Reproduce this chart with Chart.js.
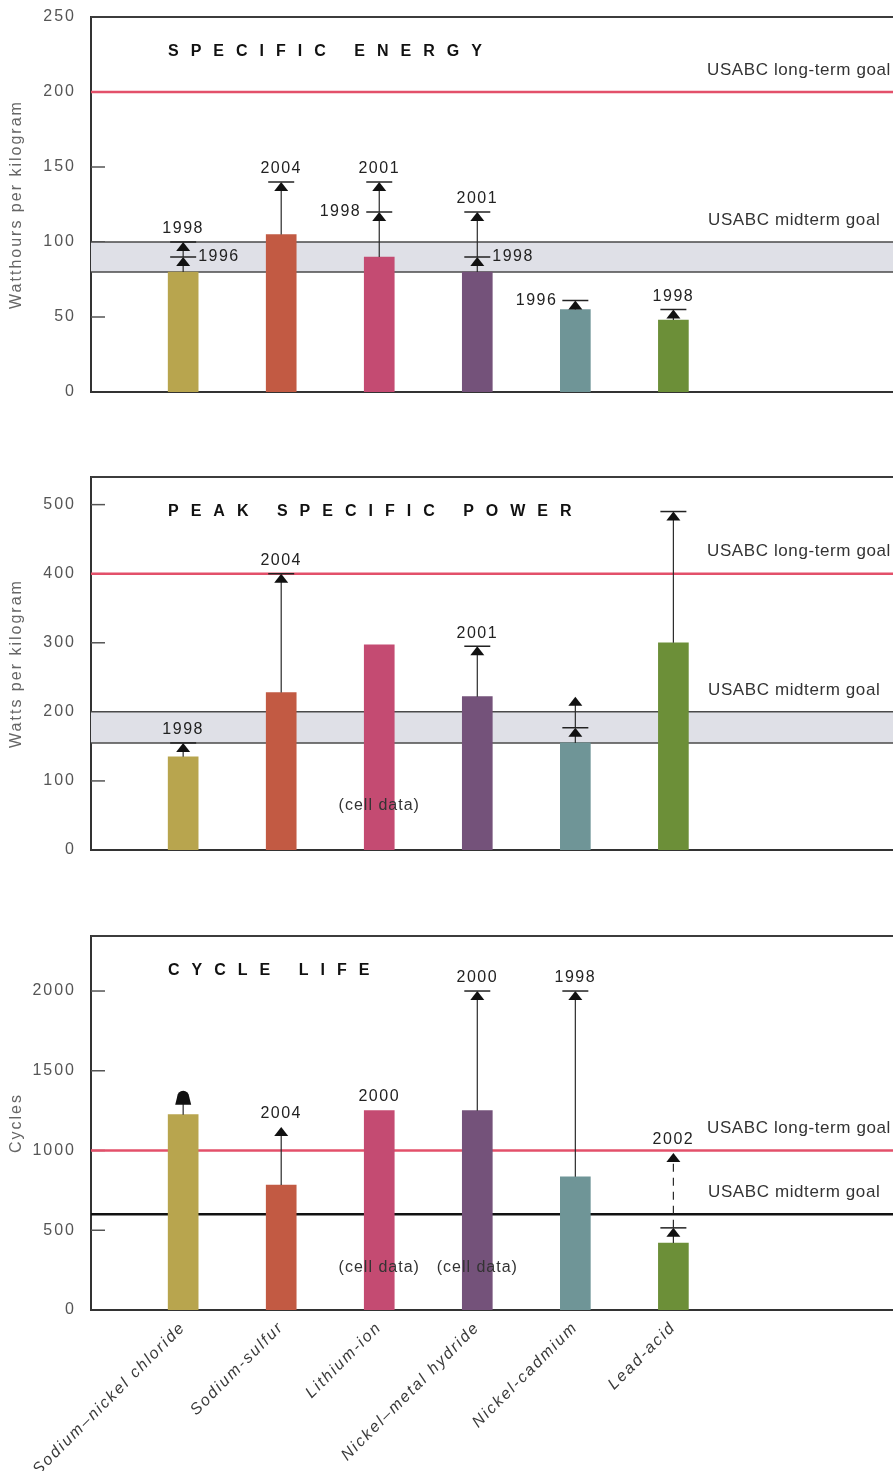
<!DOCTYPE html>
<html>
<head>
<meta charset="utf-8">
<script src="https://cdn.jsdelivr.net/npm/chart.js@4.4.1/dist/chart.umd.min.js"></script>
<style>
  html, body { margin: 0; padding: 0; background: #fff; width: 893px; height: 1471px; overflow: hidden; }
  canvas { position: absolute; left: 0; }
</style>
</head>
<body>
<canvas id="energy" width="893" height="410" style="top:0px"></canvas>
<canvas id="power" width="893" height="410" style="top:455px"></canvas>
<canvas id="cycles" width="893" height="551" style="top:920px"></canvas>
<script>
// Battery technologies, left to right
const categories = ['Sodium–nickel chloride', 'Sodium-sulfur', 'Lithium-ion', 'Nickel–metal hydride', 'Nickel-cadmium', 'Lead-acid'];
const barColors = ['#b8a54e', '#c25a43', '#c44b72', '#74527a', '#6f9597', '#6c8f38'];

// Specific energy, Wh/kg: current value and projected improvements (with target year)
const energyValues = [80, 105, 90, 80, 55, 48];
const energyProjected = [[90, 100], [140], [120, 140], [90, 120], [61], [55]];
const energyYears = [['1996', '1998'], ['2004'], ['1998', '2001'], ['1998', '2001'], ['1996'], ['1998']];
const energyTicks = [0, 50, 100, 150, 200, 250];
const energyLongTerm = 200;
const energyMidterm = [80, 100];

// Peak specific power, W/kg
const powerValues = [135, 228, 297, 222, 155, 300];
const powerProjected = [[155], [400], [], [295], [177, 222], [490]];
const powerYears = [['1998'], ['2004'], [], ['2001'], ['', ''], ['']];
const powerNotes = ['', '', '(cell data)', '', '', ''];
const powerTicks = [0, 100, 200, 300, 400, 500];
const powerLongTerm = 400;
const powerMidterm = [155, 200];

// Cycle life, cycles
const cycleValues = [1225, 784, 1250, 1250, 835, 420];
const cycleProjected = [[1375], [1147], [], [2000], [2000], [515, 985]];
const cycleYears = [[''], ['2004'], [], ['2000'], ['1998'], ['', '2002']];
const cycleBarYears = ['', '', '2000', '', '', ''];
const cycleNotes = ['', '', '(cell data)', '(cell data)', '', ''];
const cycleTicks = [0, 500, 1000, 1500, 2000];
const cycleLongTerm = 1000;
const cycleMidterm = [600];

// ---- drawing styles ----
const FONT = "'Liberation Sans', Arial, Helvetica, sans-serif";
const energyLabelSides = [['right', 'above'], ['above'], ['left', 'above'], ['right', 'above'], ['left'], ['above']];
const powerCaps = [[true], [true], [], [true], [true, false], [true]];
const cycleCaps = [[false], [false], [], [true], [true], [true, false]];
const cycleHeads = [['dome'], ['triangle'], [], ['triangle'], ['triangle'], ['triangle', 'triangle']];
const cycleDashed = [[false], [false], [], [false], [false], [false, true]];

function line(ctx, x1, y1, x2, y2, color, width, dash) {
  ctx.save();
  ctx.strokeStyle = color;
  ctx.lineWidth = width;
  if (dash) ctx.setLineDash(dash);
  ctx.beginPath();
  ctx.moveTo(x1, y1);
  ctx.lineTo(x2, y2);
  ctx.stroke();
  ctx.restore();
}

function text(ctx, str, x, y, align, font, color, spacing) {
  ctx.save();
  ctx.font = font;
  ctx.fillStyle = color;
  ctx.textAlign = align;
  ctx.textBaseline = 'middle';
  ctx.letterSpacing = spacing || '0px';
  ctx.fillText(str, x, y);
  ctx.restore();
}

function head(ctx, shape, x, y) {
  ctx.save();
  ctx.fillStyle = '#111';
  ctx.beginPath();
  if (shape === 'dome') {
    ctx.moveTo(x - 8, y + 14);
    ctx.lineTo(x + 8, y + 14);
    ctx.lineTo(x + 6, y + 6);
    ctx.lineTo(x - 6, y + 6);
    ctx.closePath();
    ctx.fill();
    ctx.beginPath();
    ctx.arc(x, y + 6, 6, 0, Math.PI * 2);
  } else {
    ctx.moveTo(x, y);
    ctx.lineTo(x + 7, y + 9);
    ctx.lineTo(x - 7, y + 9);
    ctx.closePath();
  }
  ctx.fill();
  ctx.restore();
}

function makeDecor(cfg) {
  return {
    id: 'decor',
    beforeDraw(chart) {
      chart.ctx.letterSpacing = '2px';
    },
    beforeDatasetsDraw(chart) {
      const { ctx, chartArea: a, scales: { y } } = chart;
      // upper frame line
      line(ctx, a.left, a.top, a.right, a.top, '#3c3c3c', 2);
      // inner tick marks
      cfg.ticks.forEach(t => {
        if (t > y.min && t < y.max) {
          const py = y.getPixelForValue(t);
          line(ctx, a.left, py, a.left + 14, py, '#555', 1.5);
        }
      });
      // midterm goal: band or single line
      if (cfg.midterm.length === 2) {
        const top = y.getPixelForValue(cfg.midterm[1]);
        const bot = y.getPixelForValue(cfg.midterm[0]);
        ctx.save();
        ctx.fillStyle = '#dfe0e7';
        ctx.fillRect(a.left, top, a.right - a.left, bot - top);
        ctx.restore();
        line(ctx, a.left, top, a.right, top, '#4a4a4a', 1.5);
        line(ctx, a.left, bot, a.right, bot, '#4a4a4a', 1.5);
      } else {
        const py = y.getPixelForValue(cfg.midterm[0]);
        line(ctx, a.left, py, a.right, py, '#111', 2.5);
      }
      // long-term goal
      const ly = y.getPixelForValue(cfg.longTerm);
      line(ctx, a.left, ly, a.right, ly, '#e3506a', 2.5);
    },
    afterDatasetsDraw(chart) {
      const { ctx, chartArea: a, scales: { x, y } } = chart;
      const labelFont = '16px ' + FONT;
      // panel heading
      text(ctx, cfg.heading, a.left + 77, a.top + 35, 'left', 'bold 16px ' + FONT, '#111', '12px');
      // goal captions
      const midTop = cfg.midterm[cfg.midterm.length - 1];
      text(ctx, 'USABC long-term goal', a.left + 616, y.getPixelForValue(cfg.longTerm) - 22, 'left', '17px ' + FONT, '#333', '0.6px');
      text(ctx, 'USABC midterm goal', a.left + 617, y.getPixelForValue(midTop) - 22, 'left', '17px ' + FONT, '#333', '0.6px');

      cfg.values.forEach((v, i) => {
        const px = x.getPixelForValue(i);
        let from = y.getPixelForValue(v);
        (cfg.projected[i] || []).forEach((target, k) => {
          const py = y.getPixelForValue(target);
          const dashed = cfg.dashed && cfg.dashed[i][k];
          const shape = cfg.heads ? cfg.heads[i][k] : 'triangle';
          const cap = cfg.caps ? cfg.caps[i][k] : true;
          line(ctx, px, from, px, py + 8, '#2a2a2a', 1.2, dashed ? [8, 6] : null);
          head(ctx, shape, px, py);
          if (cap) line(ctx, px - 13, py, px + 13, py, '#222', 1.5);
          const yr = cfg.years[i][k];
          if (yr) {
            const side = cfg.sides ? cfg.sides[i][k] : 'above';
            if (side === 'left') text(ctx, yr, px - 18, py, 'right', labelFont, '#222', '1.5px');
            else if (side === 'right') text(ctx, yr, px + 15, py, 'left', labelFont, '#222', '1.5px');
            else text(ctx, yr, px, py - 13, 'center', labelFont, '#222', '1.5px');
          }
          from = py;
        });
        if (cfg.barYears && cfg.barYears[i]) {
          text(ctx, cfg.barYears[i], px, y.getPixelForValue(v) - 14, 'center', labelFont, '#222', '1.5px');
        }
        if (cfg.notes && cfg.notes[i]) {
          text(ctx, cfg.notes[i], px, a.bottom - cfg.noteLift, 'center', labelFont, '#333', '1px');
        }
      });
    }
  };
}

function panel(id, cfg) {
  return new Chart(document.getElementById(id), {
    type: 'bar',
    data: {
      datasets: [{
        data: cfg.values.map((v, i) => ({ x: i, y: v })),
        backgroundColor: barColors,
        borderWidth: 0,
        barThickness: 30
      }]
    },
    options: {
      responsive: false,
      animation: false,
      devicePixelRatio: 1,
      events: [],
      layout: { padding: { top: cfg.padTop, bottom: cfg.padBottom, left: 0, right: 0 } },
      plugins: { legend: { display: false }, tooltip: { enabled: false } },
      scales: {
        x: {
          type: 'linear',
          min: -0.94,
          max: 7.24,
          offset: false,
          afterBuildTicks: s => { s.ticks = categories.map((_, i) => ({ value: i })); },
          afterFit: s => { s.height = cfg.xHeight; s.paddingTop = 0; s.paddingBottom = 0; },
          grid: { display: false, drawTicks: false },
          border: { display: true, color: '#333', width: 2 },
          ticks: {
            display: cfg.showLabels,
            autoSkip: false,
            minRotation: 45,
            maxRotation: 45,
            padding: 8,
            color: '#3a3a3a',
            font: { family: FONT, size: 16, style: 'italic' },
            callback: v => categories[v]
          }
        },
        y: {
          min: 0,
          max: cfg.yMax,
          afterBuildTicks: s => { s.ticks = cfg.ticks.map(v => ({ value: v })); },
          afterFit: s => { s.width = 91; s.paddingTop = 0; s.paddingBottom = 0; },
          grid: { display: false, drawTicks: false },
          border: { display: true, color: '#333', width: 2 },
          ticks: { padding: 15, color: '#555', font: { family: FONT, size: 16 }, callback: v => String(v) },
          title: {
            display: true,
            text: cfg.yTitle,
            color: '#666',
            font: { family: FONT, size: 16 },
            padding: { top: 7, bottom: 0 }
          }
        }
      }
    },
    plugins: [makeDecor(cfg)]
  });
}

panel('energy', {
  heading: 'SPECIFIC ENERGY', yTitle: 'Watthours per kilogram',
  values: energyValues, projected: energyProjected, years: energyYears, sides: energyLabelSides,
  ticks: energyTicks, yMax: 250, longTerm: energyLongTerm, midterm: energyMidterm,
  padTop: 17, padBottom: 18, xHeight: 0, showLabels: false
});

panel('power', {
  heading: 'PEAK SPECIFIC POWER', yTitle: 'Watts per kilogram',
  values: powerValues, projected: powerProjected, years: powerYears, caps: powerCaps,
  notes: powerNotes, noteLift: 44,
  ticks: powerTicks, yMax: 540, longTerm: powerLongTerm, midterm: powerMidterm,
  padTop: 22, padBottom: 15, xHeight: 0, showLabels: false
});

panel('cycles', {
  heading: 'CYCLE LIFE', yTitle: 'Cycles',
  values: cycleValues, projected: cycleProjected, years: cycleYears, caps: cycleCaps,
  heads: cycleHeads, dashed: cycleDashed, barYears: cycleBarYears,
  notes: cycleNotes, noteLift: 42,
  ticks: cycleTicks, yMax: 2345, longTerm: cycleLongTerm, midterm: cycleMidterm,
  padTop: 16, padBottom: 0, xHeight: 161, showLabels: true
});
</script>
</body>
</html>
